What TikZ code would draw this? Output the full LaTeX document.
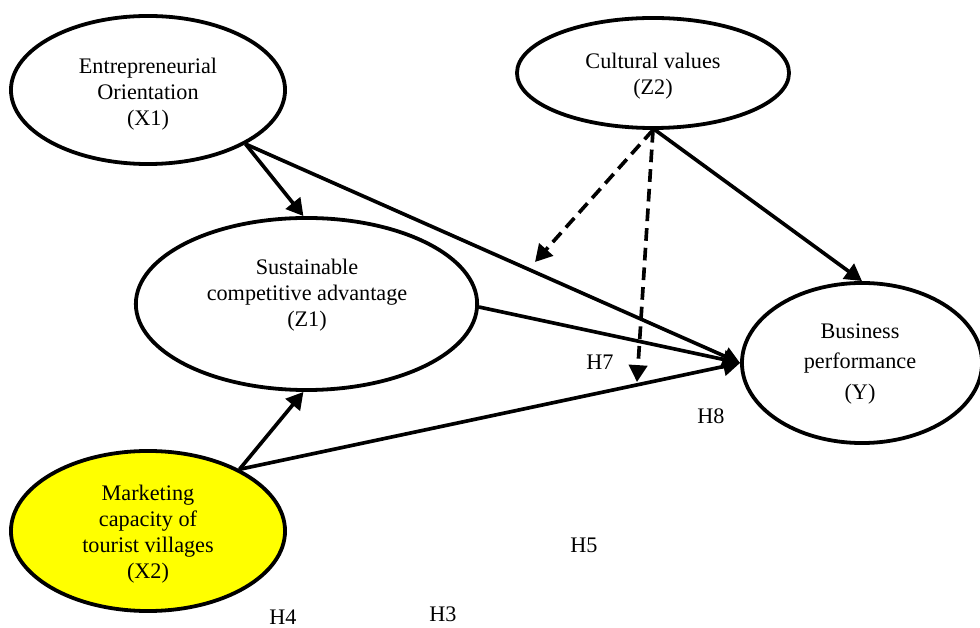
\documentclass[tikz,border=0pt]{standalone}
\usepackage{fontspec}
\setmainfont{Liberation Serif}
\usetikzlibrary{arrows.meta, shapes.geometric}

\begin{document}
\begin{tikzpicture}[
    x=0.025cm, y=-0.025cm,
    every node/.style={font=\fontsize{15.8}{18.4}\selectfont},
    latent/.style={ellipse, draw, line width=2.7pt, inner sep=0pt},
    caption/.style={align=center, inner sep=0pt},
    path/.style={-{Triangle[length=12pt, width=13pt]}, line width=2.6pt},
    moderation/.style={path, dash pattern=on 9pt off 5pt},
]

\definecolor{marketfill}{HTML}{FFFF00}

\useasboundingbox (0,0) rectangle (980,628);

% ---------------------------------------------------------------- constructs
\node[latent, minimum width=6.85cm, minimum height=3.7cm]  (x1) at (148,90) {};
\node[latent, minimum width=6.8cm, minimum height=2.75cm]  (z2) at (653,73) {};
\node[latent, minimum width=8.53cm, minimum height=4.3cm]  (z1) at (306.5,304) {};
\node[latent, minimum width=6.0cm, minimum height=4.0cm]   (y)  at (862,363) {};
\node[latent, fill=marketfill, minimum width=6.85cm, minimum height=4cm] (x2) at (148,531) {};

\node[caption] (x1text) at (148,94)  {Entrepreneurial\\Orientation\\(X1)};
\node[caption] (z2text) at (653,76)  {Cultural values\\(Z2)};
\node[caption] (z1text) at (307,295) {Sustainable\\competitive advantage\\(Z1)};
\node[caption] (ytext)  at (860,364) {Business\\[3pt]performance\\[3pt](Y)};
\node[caption] (x2text) at (148,534) {Marketing\\capacity of\\tourist villages\\(X2)};

% ---------------------------------------------------------------- direct paths
\draw[path] (x1.-29) -- (z1.92);
\draw[path] (x1.-29) -- (y.180);
\draw[path] (z1.-1)  -- (y.180);
\draw[path] (x2.34)  -- (z1.-92);
\draw[path] (x2.34)  -- (y.180);
\draw[path] (z2.-88) -- (y.90);

% ---------------------------------------------------------------- moderation
\coordinate (m1) at (535,262);
\coordinate (m2) at (637,382);
\draw[moderation] (z2.-90) -- (m1);
\draw[moderation] (z2.-90) -- (m2);

% ---------------------------------------------------------------- hypotheses
\node (h7) at (600,362) {H7};
\node (h8) at (711,416) {H8};
\node (h5) at (584,545) {H5};
\node (h4) at (283,617) {H4};
\node (h3) at (443,614) {H3};

\end{tikzpicture}
\end{document}
